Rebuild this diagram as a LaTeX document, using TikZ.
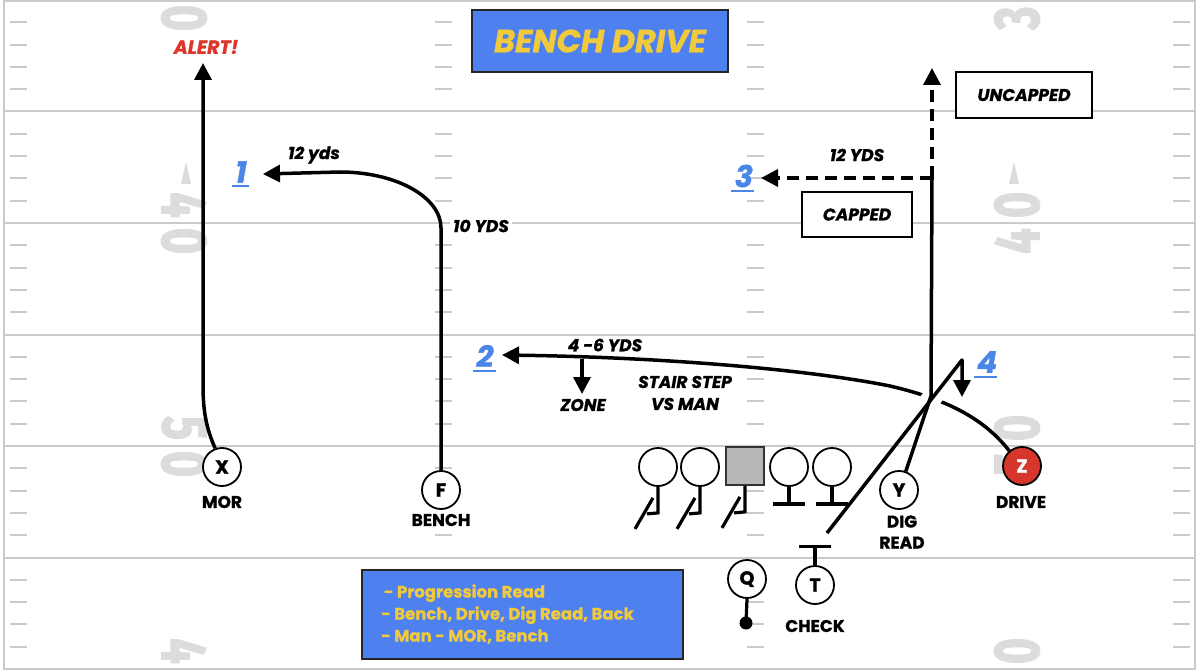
\documentclass[tikz,border=0pt]{standalone}
\usepackage{fontspec}
\setmainfont{Poppins}[BoldFeatures={FakeBold=1}, BoldItalicFeatures={FakeBold=1}]
\newfontfamily\numfont{Fira Sans}[BoldFeatures={FakeBold=2.5}]
\usepackage{graphicx}
\usetikzlibrary{arrows.meta,calc}
\definecolor{fieldline}{RGB}{202,202,202}
\definecolor{numgray}{RGB}{220,220,220}
\definecolor{boxblue}{RGB}{78,128,240}
\definecolor{txtyellow}{RGB}{240,201,60}
\definecolor{numblue}{RGB}{74,134,232}
\definecolor{alertred}{RGB}{222,53,43}
\definecolor{zred}{RGB}{214,54,44}
\newcommand{\fnumtext}[1]{\scalebox{0.7}[1]{\numfont\fontsize{64}{64}\selectfont\bfseries #1}}
\tikzset{
  fline/.style={draw=fieldline, line width=2pt},
  hashmk/.style={draw=fieldline, line width=2pt},
  fnum/.style={text=numgray, inner sep=0pt},
  route/.style={line width=3.5pt, -{Triangle[length=17pt,width=17pt]}},
  plainroute/.style={line width=3.5pt},
  dsh/.style={dash pattern=on 12pt off 7pt},
  blk/.style={line width=3.2pt},
  player/.style={circle, draw=black, line width=1.8pt, fill=white, minimum size=38pt, inner sep=0pt, font=\fontsize{19}{19}\selectfont\bfseries},
  cbox/.style={rectangle, draw=black!80, line width=1.8pt, fill=black!28, minimum size=38pt, inner sep=0pt},
  lbl/.style={font=\fontsize{17}{21}\selectfont\bfseries, fill=white, inner sep=3pt},
  ilbl/.style={font=\fontsize{17}{22}\selectfont\bfseries\itshape, fill=white, inner sep=3pt},
  boxlbl/.style={draw=black, line width=1.8pt, fill=white, font=\fontsize{17}{17}\selectfont\bfseries\itshape, inner sep=0pt},
  bnum/.style={text=numblue, font=\fontsize{30}{30}\selectfont\bfseries\itshape, inner sep=1pt},
  ul/.style={draw=numblue, line width=2.6pt},
}
\begin{document}
\begin{tikzpicture}[x=1pt,y=-1pt]
\useasboundingbox (0,0) rectangle (1200,671);
\fill[white] (0,0) rectangle (1200,671);
\begin{scope}
\clip (0,0) rectangle (1200,671);
% field numbers, left column (reads top to bottom)
\node[fnum, rotate=-90] (nLa) at (184,18) {\fnumtext{0}};
\node[fnum, rotate=-90] (nLb) at (184,205) {\fnumtext{4}};
\node[fnum, rotate=-90] (nLc) at (184,241) {\fnumtext{0}};
\node[fnum, rotate=-90] (nLd) at (184,428) {\fnumtext{5}};
\node[fnum, rotate=-90] (nLe) at (184,464) {\fnumtext{0}};
\node[fnum, rotate=-90] (nLf) at (184,651) {\fnumtext{4}};
\fill[numgray] (186,162) -- (191,184) -- (181,184) -- cycle;
% right column (reads bottom to top)
\node[fnum, rotate=90] (nRa) at (1017,18) {\fnumtext{3}};
\node[fnum, rotate=90] (nRb) at (1017,205) {\fnumtext{0}};
\node[fnum, rotate=90] (nRc) at (1017,241) {\fnumtext{4}};
\node[fnum, rotate=90] (nRd) at (1017,428) {\fnumtext{0}};
\node[fnum, rotate=90] (nRe) at (1017,464) {\fnumtext{5}};
\node[fnum, rotate=90] (nRf) at (1017,651) {\fnumtext{0}};
\fill[numgray] (1014,162) -- (1019,184) -- (1009,184) -- cycle;
% yard lines and border
\foreach \yy in {111.5,223,334.5,446,557.5} \draw[fline] (4,\yy) -- (1195,\yy);
\draw[fline] (4,1) rectangle (1195,669);
% hash marks
\foreach \s in {0,111.5,223,334.5,446,557.5}{
  \foreach \k in {1,2,3,4}{
    \pgfmathsetmacro\hy{\s+22.3*\k}
    \foreach \hx in {10,435,747,1173}{
      \draw[hashmk] (\hx,\hy) -- ++(17,0);
    }
  }
}
\end{scope}

% title
\node[draw=black!85, line width=2pt, fill=boxblue, minimum width=256pt, minimum height=62pt, inner sep=0pt,
      text=txtyellow, font=\fontsize{32}{32}\selectfont\bfseries\itshape] (title) at (600,41) {BENCH DRIVE};

% text labels
\node[ilbl, text=alertred, font=\fontsize{19}{19}\selectfont\bfseries\itshape] (alert) at (206,47) {ALERT!};
\node[ilbl] (l12a) at (314,155) {12 yds};
\node[ilbl] (l10) at (481,226) {10 YDS};
\node[ilbl] (l12b) at (857,155) {12 YDS};
\node[ilbl] (l46) at (605,345) {4 -6 YDS};
\node[ilbl] (zone) at (583,405) {ZONE};
\node[ilbl, align=center] (stair) at (685,393) {STAIR STEP\\VS MAN};
\node[boxlbl, minimum width=110pt, minimum height=45pt] (capped) at (857,214.5) {CAPPED};
\node[boxlbl, minimum width=136pt, minimum height=46pt] (uncapped) at (1024,95) {UNCAPPED};

% progression numbers
\node[bnum] (n1) at (241,172) {1};
\draw[ul] (232,186) -- (249,186);
\node[bnum] (n3) at (744,176) {3};
\draw[ul] (731,191) -- (754,191);
\node[bnum] (n2) at (485,356) {2};
\draw[ul] (473,371) -- (496,371);
\node[bnum] (n4) at (987,362) {4};
\draw[ul] (974,377) -- (997,377);

% players
\node[player] (X) at (222,467) {X};
\node[player] (F) at (441,490) {F};
\node[player] (OL1) at (658,467) {};
\node[player] (OL2) at (700,467) {};
\node[cbox] (OL3) at (745,466) {};
\node[player] (OL4) at (789,467) {};
\node[player] (OL5) at (832,467) {};
\node[player] (Y) at (899,490) {Y};
\node[player] (T) at (815,585) {T};
\node[player] (Q) at (747,579) {Q};
\node[player, fill=zred, text=white] (Z) at (1022,466) {Z};

% player labels
\node[lbl] (mor) at (222,502) {MOR};
\node[lbl] (bench) at (441,520) {BENCH};
\node[lbl, align=center] (dig) at (902,532) {DIG\\READ};
\node[lbl] (drive) at (1021,502) {DRIVE};
\node[lbl] (check) at (815,626) {CHECK};

% legend
\node[draw=black!85, line width=2pt, fill=boxblue, minimum width=321pt, minimum height=89pt, inner sep=0pt] (legendbox) at (522.5,614.5) {};
\node[anchor=west, align=left, inner sep=0pt, text=txtyellow, font=\fontsize{16.5}{22}\selectfont\bfseries] (legend) at (381,614) {\,- Progression Read\\- Bench, Drive, Dig Read, Back\\- Man - MOR, Bench};

% coordinates
\coordinate (xEnd) at (203,63);
\coordinate (fEnd) at (263,174);
\coordinate (zEnd) at (502,355);
\coordinate (zoneTop) at (582,359);
\coordinate (zoneEnd) at (582,394);
\coordinate (yTurn) at (931,396);
\coordinate (yCap) at (932,178);
\coordinate (yUp) at (932,68);
\coordinate (yIn) at (761,178);
\coordinate (tStart) at (827,533);
\coordinate (tApex) at (962,360);
\coordinate (tEnd) at (962,397);

% routes
\draw[route] (X.110) .. controls (206,428) and (203,410) .. (203,385) -- (xEnd);
\draw[route] (F.north) -- (441,228) .. controls (441,197) and (396,172) .. (340,172) -- (fEnd);
\draw[route] (Z.130) .. controls (985,420) and (950,400) .. (890,386) .. controls (800,368) and (650,357) .. (zEnd);
\draw[route] (zoneTop) -- (zoneEnd);
\draw[white, line width=20pt] (918,416) -- (941,386);
\draw[route, line join=round] (tStart) -- (tApex) -- (tEnd);
\draw[plainroute] (Y.70) -- (yTurn) -- (yCap);
\draw[route, dsh] (yCap) -- (yUp);
\draw[route, dsh] (yCap) -- (yIn);

% blocking marks
\foreach \n in {OL1,OL2,OL3}{
  \draw[blk] (\n.south) -- ++(0,26) -- ++(-11,1);
  \draw[blk] ($(\n.south)+(-5,11)$) -- ++(-18,31);
}
\foreach \n in {OL4,OL5}{
  \draw[blk] (\n.south) -- ++(0,17) coordinate (\n b);
  \draw[blk] ($(\n b)+(-16,0)$) -- ($(\n b)+(16,0)$);
}
\draw[blk] (T.north) -- ++(0,-19) coordinate (Tb);
\draw[blk] ($(Tb)+(-16,0)$) -- ($(Tb)+(16,0)$);
\coordinate (qDot) at (746,623);
\draw[blk] (Q.south) -- (qDot);
\fill (qDot) circle (6.5);
\end{tikzpicture}
\end{document}
